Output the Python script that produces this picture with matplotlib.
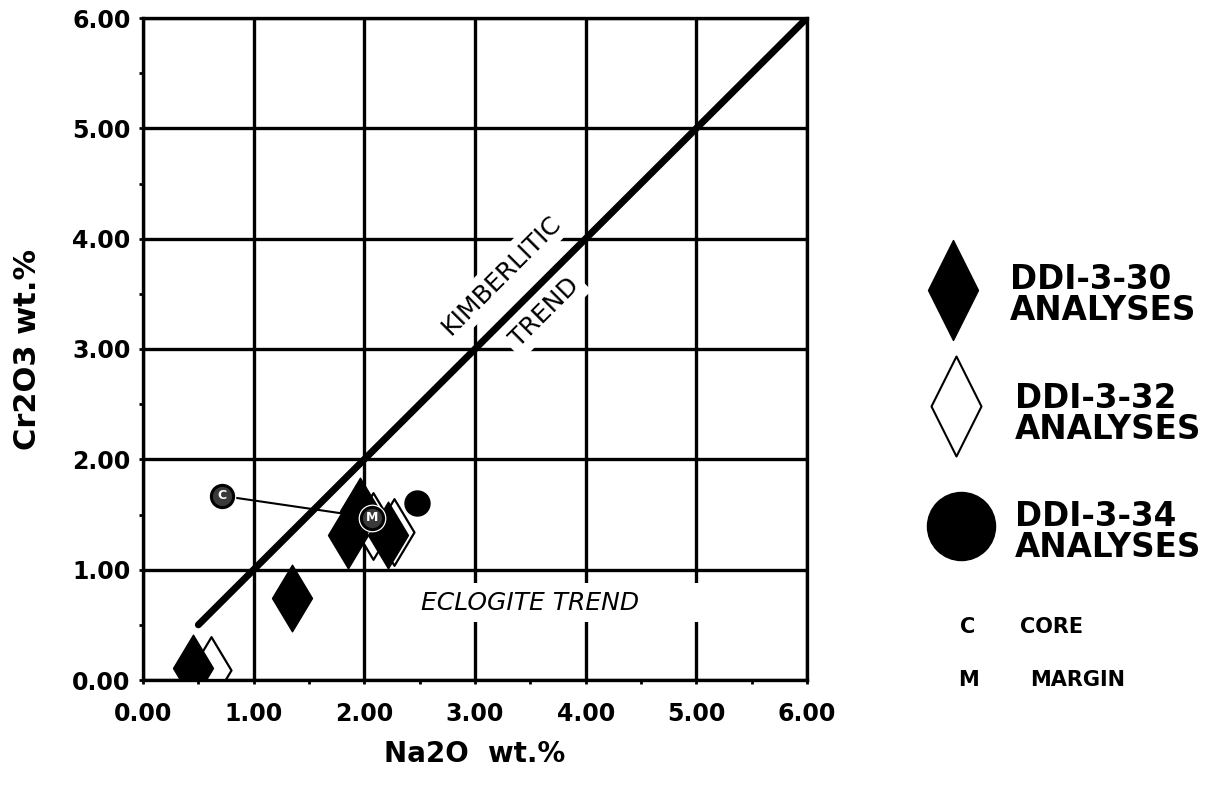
import numpy as np
import matplotlib
matplotlib.use("Agg")
import matplotlib.pyplot as plt
from matplotlib.path import Path
from matplotlib.lines import Line2D
from matplotlib.patches import Rectangle

# garnet / pyroxene analyses, Na2O vs Cr2O3 (wt.%)
ddi30_na2o = [0.45, 1.35, 1.85, 1.96, 2.21]
ddi30_cr2o3 = [0.11, 0.74, 1.31, 1.53, 1.31]
ddi32_na2o = [0.61, 2.08, 2.27]
ddi32_cr2o3 = [0.09, 1.40, 1.34]
ddi34_na2o = [2.48]
ddi34_cr2o3 = [1.60]

# core -> margin traverse
core_na2o, core_cr2o3 = 0.71, 1.67
margin_na2o, margin_cr2o3 = 2.07, 1.47

# kimberlitic trend line
trend_x = [0.5, 6.0]
trend_y = [0.5, 6.0]

ticks = [0, 1, 2, 3, 4, 5, 6]
series_names = ["DDI-3-30\nANALYSES", "DDI-3-32\nANALYSES", "DDI-3-34\nANALYSES"]
key_letters = ["C", "M"]
key_names = ["CORE", "MARGIN"]

plt.rcParams['font.family'] = ['DejaVu Sans']

W, H = 1222, 789
fig = plt.figure(figsize=(W / 100, H / 100), dpi=100)
ax = fig.add_axes([143 / W, 1 - 680 / H, 664 / W, 662 / H])

# tall diamond marker
diamond = Path([(0, 1), (0.6, 0), (0, -1), (-0.6, 0), (0, 1)],
               [Path.MOVETO, Path.LINETO, Path.LINETO, Path.LINETO, Path.CLOSEPOLY])
diamond_leg = Path([(0, 1), (0.5, 0), (0, -1), (-0.5, 0), (0, 1)],
                   [Path.MOVETO, Path.LINETO, Path.LINETO, Path.LINETO, Path.CLOSEPOLY])

ax.set_xlim(0, 6)
ax.set_ylim(0, 6)
ax.set_xticks(ticks)
ax.set_yticks(ticks)
ax.set_xticks(np.arange(0.5, 6, 1), minor=True)
ax.set_yticks(np.arange(0.5, 6, 1), minor=True)
ax.xaxis.set_major_formatter(plt.FormatStrFormatter('%.2f'))
ax.yaxis.set_major_formatter(plt.FormatStrFormatter('%.2f'))
ax.tick_params(which='both', direction='out', length=3, width=2, color='black')
ax.tick_params(axis='x', which='major', pad=13)
ax.tick_params(axis='y', which='major', pad=6)
for lab in ax.get_xticklabels() + ax.get_yticklabels():
    lab.set_fontsize(17)
    lab.set_fontweight('bold')
ax.grid(True, which='major', color='black', linewidth=2.4, zorder=0)
ax.set_axisbelow(True)
for s in ax.spines.values():
    s.set_linewidth(2.4)
    s.set_zorder(6)

ax.set_xlabel('Na2O  wt.%', fontsize=20, fontweight='bold', labelpad=10)
ax.set_ylabel('Cr2O3 wt.%', fontsize=22, fontweight='bold', labelpad=22)

# trend line and labels
ax.plot(trend_x, trend_y, color='black', lw=5, solid_capstyle='round', zorder=4)
box = dict(facecolor='white', edgecolor='none', pad=4)
ax.text(3.24, 3.67, 'KIMBERLITIC', rotation=45, rotation_mode='anchor',
        ha='center', va='center', fontsize=18, bbox=box, zorder=3)
ax.text(3.63, 3.33, 'TREND', rotation=45, rotation_mode='anchor',
        ha='center', va='center', fontsize=18, bbox=box, zorder=3)
ax.add_patch(Rectangle((2.4, 0.53), 2.68, 0.35, facecolor='white', edgecolor='none', zorder=2))
ax.text(3.5, 0.70, 'ECLOGITE TREND', style='italic', ha='center', va='center',
        fontsize=18, zorder=3)

# data points
ax.plot(ddi32_na2o, ddi32_cr2o3, ls='none', marker=diamond, ms=48,
        mfc='white', mec='black', mew=1.6, zorder=5)
ax.plot(ddi30_na2o, ddi30_cr2o3, ls='none', marker=diamond, ms=48,
        mfc='black', mec='black', mew=1, zorder=5)
ax.plot(ddi34_na2o, ddi34_cr2o3, ls='none', marker='o', ms=18,
        mfc='black', mec='black', zorder=5)

ax.plot([core_na2o, margin_na2o], [core_cr2o3, margin_cr2o3], color='black', lw=1.5, zorder=4.5)
for (cx, cy, letter) in [(core_na2o, core_cr2o3, 'C'), (margin_na2o, margin_cr2o3, 'M')]:
    ax.plot([cx], [cy], marker='o', ms=19, mfc='white', mec='white', zorder=6.5)
    ax.plot([cx], [cy], marker='o', ms=16, mfc='#3a3a3a', mec='black', mew=2.2, zorder=7)
    ax.text(cx, cy, letter, color='white', fontsize=9, fontweight='bold',
            ha='center', va='center', zorder=8)

# legend drawn by hand at the right
def fx(px):
    return px / W

def fy(py):
    return 1 - py / H

leg_marker_pos = [(953, 290), (956, 406), (961, 526)]
leg_text_pos = [(1010, 295), (1015, 414), (1015, 532)]
leg_styles = [dict(marker=diamond_leg, ms=72, mfc='black', mec='black'),
              dict(marker=diamond_leg, ms=72, mfc='white', mec='black', mew=1.5),
              dict(marker='o', ms=49, mfc='black', mec='black')]
for name, (mx, my), (tx, ty), st in zip(series_names, leg_marker_pos, leg_text_pos, leg_styles):
    fig.add_artist(Line2D([fx(mx)], [fy(my)], transform=fig.transFigure, ls='none', **st))
    fig.text(fx(tx), fy(ty), name, ha='left', va='center', fontsize=23.5,
             fontweight='bold', linespacing=0.92)

for (letter, name, ly, nx) in zip(key_letters, key_names, [627, 680], [1020, 1030]):
    fig.text(fx(968), fy(ly), letter, ha='center', va='center', fontsize=15, fontweight='bold')
    fig.text(fx(nx), fy(ly), name, ha='left', va='center', fontsize=15, fontweight='bold')

fig.savefig('out.png', dpi=100, facecolor='white')
